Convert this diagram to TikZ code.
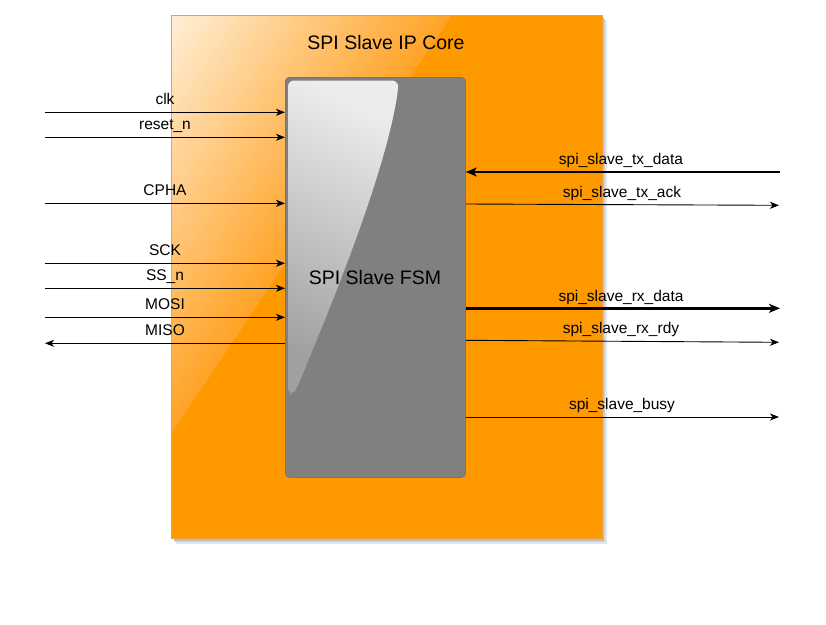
\documentclass[tikz,border=0pt]{standalone}
\usepackage{fontspec}
\setmainfont{Liberation Sans}
\usetikzlibrary{arrows.meta}
\definecolor{corecol}{HTML}{FF9900}
\definecolor{corebord}{HTML}{F0A040}
\definecolor{corelight}{RGB}{255,240,218}
\definecolor{coreedge}{RGB}{255,164,40}
\definecolor{fsmcol}{HTML}{808080}
\definecolor{fsmbord}{HTML}{747474}
\definecolor{glosslight}{RGB}{236,236,236}
\definecolor{glossdark}{RGB}{160,160,160}
\begin{document}
\begin{tikzpicture}[x=1pt,y=-1pt,
  sig/.style={line width=0.9pt,-{Stealth[length=9pt,width=7pt,inset=2.5pt]}},
  bus/.style={line width=2.6pt,-{Stealth[length=11pt,width=9pt,inset=3pt]}},
  lbl/.style={font=\fontsize{15.5}{17}\selectfont,anchor=base,inner sep=0pt},
  ttl/.style={font=\fontsize{19.5}{22}\selectfont,inner sep=0pt}]
\useasboundingbox (0,0) rectangle (826,624);
% shadow
\fill[black!10] (176,20) rectangle (607,544);
\fill[black!18] (175,19) rectangle (605,542);
\fill[black!25] (174,18) rectangle (604,541);
% core box
\node[fill=corecol,draw=none,minimum width=431pt,minimum height=523pt,anchor=north west,inner sep=0pt] (core) at (171,15) {};
\foreach \i in {50,49,...,1}{
  \pgfmathtruncatemacro\p{2*\i}
  \pgfmathsetmacro\ax{171+5.62*\i}
  \pgfmathsetmacro\ay{15+8.38*\i}
  \fill[coreedge!\p!corelight] (171,15) -- (\ax,15) -- (171,\ay) -- cycle;
}
\draw[corebord,line width=0.8pt] (core.north west) rectangle (core.south east);
\node[ttl] (title) at (386,43) {SPI Slave IP Core};
% fsm box
\node[fill=fsmcol,draw=fsmbord,line width=0.8pt,rounded corners=4pt,minimum width=180pt,minimum height=400pt,anchor=north west,inner sep=0pt] (fsm) at (285,77) {};
\shade[left color=glosslight,right color=glossdark,shading angle=-25,rounded corners=6pt]
  (288,394) -- (288,80.5) -- (398,80.5) -- (398,90)
  .. controls (384,180) and (325,320) .. (297,388) -- (293,394) -- cycle;
\node[ttl] (fsmtext) at (375,278) {SPI Slave FSM};
% left signals
\foreach \n/\y/\t in {clk/112.3/clk, rst/137.3/reset\_n, cpha/203.3/CPHA, sck/263.3/SCK, ss/288.3/SS\_n, mosi/317.3/MOSI}{
  \coordinate (\n) at (45,\y);
  \draw[sig] (\n) -- (\n -| fsm.west);
  \node[lbl] at (165,\y-7.5) {\t};
}
\coordinate (miso) at (45,343.3);
\draw[sig] (miso -| fsm.west) -- (miso);
\node[lbl] at (165,335.8) {MISO};
% right signals
\coordinate (txdata) at (780,172);
\draw[bus] (txdata) -- (txdata -| fsm.east);
\node[lbl] at (621,164.5) {spi\_slave\_tx\_data};
\coordinate (txack) at (779,205.3);
\coordinate (txackS) at (fsm.east |- 0,204);
\draw[sig] (txackS) -- (txack);
\node[lbl] at (622,197) {spi\_slave\_tx\_ack};
\coordinate (rxdata) at (780,308.3);
\draw[bus] (rxdata -| fsm.east) -- (rxdata);
\node[lbl] at (621,301) {spi\_slave\_rx\_data};
\coordinate (rxrdy) at (779,342.3);
\coordinate (rxrdyS) at (fsm.east |- 0,340.3);
\draw[sig] (rxrdyS) -- (rxrdy);
\node[lbl] at (621,333) {spi\_slave\_rx\_rdy};
\coordinate (busy) at (779,417);
\draw[sig] (busy -| fsm.east) -- (busy);
\node[lbl] at (622,409.5) {spi\_slave\_busy};
\end{tikzpicture}
\end{document}
